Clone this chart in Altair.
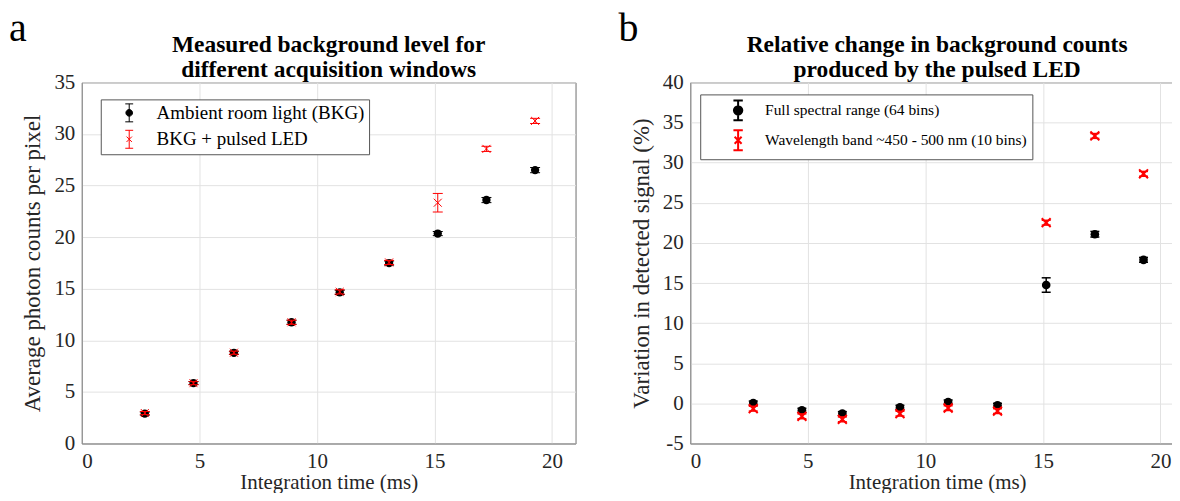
import altair as alt
import pandas as pd

# ---------------- data ----------------
t_ms = [2.68, 4.75, 6.47, 8.92, 10.97, 13.07, 15.14, 17.21, 19.28]

# panel a: average photon counts per pixel
bkg_counts = [2.90, 5.86, 8.79, 11.75, 14.65, 17.49, 20.35, 23.60, 26.50]
bkg_err = [0.15, 0.15, 0.15, 0.20, 0.20, 0.20, 0.20, 0.25, 0.25]
led_counts = [2.95, 5.85, 8.80, 11.75, 14.70, 17.55, 23.34, 28.56, 31.27]
led_err = [0.15, 0.15, 0.15, 0.20, 0.20, 0.20, 0.90, 0.25, 0.25]

# panel b: variation in detected signal (%)
full_var = [0.04, -0.87, -1.28, -0.50, 0.16, -0.25, 14.75, 21.08, 17.89]
full_err = [0.25, 0.25, 0.25, 0.25, 0.25, 0.25, 0.90, 0.35, 0.30]
band_var = [-0.66, -1.61, -1.99, -1.28, -0.58, -0.96, 22.52, 33.33, 28.61]
band_err = [0.30, 0.30, 0.30, 0.30, 0.30, 0.30, 0.30, 0.30, 0.30]

a_series = ["Ambient room light (BKG)", "BKG + pulsed LED"]
b_series = ["Full spectral range (64 bins)", "Wavelength band ~450 - 500 nm (10 bins)"]
a_title = ["Measured background level for", "different acquisition windows"]
b_title = ["Relative change in background counts", "produced by the pulsed LED"]

x_ticks = [0, 5, 10, 15, 20]
a_yticks = [0, 5, 10, 15, 20, 25, 30, 35]
b_yticks = [-5, 0, 5, 10, 15, 20, 25, 30, 35, 40]

FONT = "Liberation Serif"
X_PATH = "M-1,-1L1,1M-1,1L1,-1"
FRAME = "#6e6e6e"
W, H = 495, 362


def frame(names, vals, errs):
    rows = []
    for name, v, e in zip(names, vals, errs):
        for t, vv, ee in zip(t_ms, v, e):
            rows.append({"t": t, "v": vv, "lo": vv - ee, "hi": vv + ee, "s": name})
    return pd.DataFrame(rows)


def legend_paths(dx, cap, dot, xh):
    black = (f"M{dx},-1L{dx},1M{dx-cap},-1L{dx+cap},-1M{dx-cap},1L{dx+cap},1"
             f"M{dx-dot},0A{dot},{dot} 0 1,1 {dx+dot},0A{dot},{dot} 0 1,1 {dx-dot},0Z")
    red = (f"M{dx},-1L{dx},1M{dx-cap},-1L{dx+cap},-1M{dx-cap},1L{dx+cap},1"
           f"M{dx-xh},{-xh}L{dx+xh},{xh}M{dx-xh},{xh}L{dx+xh},{-xh}")
    return [black, red]


def text_layer(txt, x, y, **kw):
    return alt.Chart(pd.DataFrame({"lab": [txt]})).mark_text(
        font=FONT, color="black", baseline="alphabetic", **kw
    ).encode(text="lab:N", x=alt.value(x), y=alt.value(y))


def panel(df, names, ydom, yvals, ytitle, title, letter, letter_dx, leg, lpaths,
          sw, dot_size, x_size, cap_w, x_sw):
    xs = alt.Scale(domain=[0, 21], nice=False, zero=False)
    xa = alt.Axis(values=x_ticks, title="Integration time (ms)",
                  labelFont=FONT, titleFont=FONT)
    ys = alt.Scale(domain=ydom, nice=False, zero=False)
    ya = alt.Axis(values=yvals, title=ytitle, labelExpr="datum.value + ''",
                  labelFont=FONT, titleFont=FONT)
    X = alt.X("t:Q", scale=xs, axis=xa)
    cs = alt.Scale(domain=names, range=["#000000", "#ff0000"])
    ss = alt.Scale(domain=names, range=lpaths)
    base = alt.Chart(df)

    legend_layer = base.mark_point(filled=True, opacity=0).encode(
        x=X, y=alt.Y("v:Q", scale=ys, axis=ya),
        fill=alt.Fill("s:N", scale=cs, legend=leg, sort=names),
        stroke=alt.Stroke("s:N", scale=cs, legend=leg, sort=names),
        shape=alt.Shape("s:N", scale=ss, legend=leg, sort=names),
    )
    layers = [legend_layer]
    for name, col in zip(names, ["#000000", "#ff0000"]):
        sub = base.transform_filter(alt.datum.s == name)
        rule = sub.mark_rule(color=col, strokeWidth=sw).encode(
            x=X, y=alt.Y("lo:Q", scale=ys, axis=ya), y2="hi:Q")
        cap_lo = sub.mark_tick(orient="horizontal", color=col, size=cap_w,
                               thickness=sw, opacity=1).encode(
            x=X, y=alt.Y("lo:Q", scale=ys, axis=ya))
        cap_hi = sub.mark_tick(orient="horizontal", color=col, size=cap_w,
                               thickness=sw, opacity=1).encode(
            x=X, y=alt.Y("hi:Q", scale=ys, axis=ya))
        if col == "#000000":
            pts = sub.mark_point(filled=True, shape="circle", size=dot_size,
                                 color=col, opacity=1).encode(
                x=X, y=alt.Y("v:Q", scale=ys, axis=ya))
        else:
            pts = sub.mark_point(filled=False, shape=X_PATH, size=x_size,
                                 color=col, strokeWidth=x_sw, opacity=1).encode(
                x=X, y=alt.Y("v:Q", scale=ys, axis=ya))
        layers += [rule, cap_lo, cap_hi, pts]

    # panel letter and two-line bold title as text annotations
    layers.append(text_layer(letter, letter_dx, -42, align="left", fontSize=40))
    layers.append(text_layer(title[0], W / 2, -31, align="center",
                             fontSize=23.5, fontWeight="bold"))
    layers.append(text_layer(title[1], W / 2, -5, align="center",
                             fontSize=23.5, fontWeight="bold"))

    return alt.layer(*layers).properties(width=W, height=H)


leg_a = alt.Legend(title=None, orient="none", legendX=19, legendY=17, padding=4,
                   symbolSize=324, symbolStrokeWidth=1, symbolOpacity=1,
                   labelFont=FONT, labelFontSize=19, labelColor="#000000",
                   labelOffset=33, labelLimit=400, rowPadding=3.5,
                   strokeColor="#555555", fillColor="#ffffff")
leg_b = alt.Legend(title=None, orient="none", legendX=10, legendY=12, padding=5,
                   symbolSize=400, symbolStrokeWidth=2, symbolOpacity=1,
                   labelFont=FONT, labelFontSize=15.5, labelColor="#000000",
                   labelOffset=38, labelLimit=500, rowPadding=2,
                   strokeColor="#555555", fillColor="#ffffff")

left = panel(frame(a_series, [bkg_counts, led_counts], [bkg_err, led_err]),
             a_series, [0, 35], a_yticks, "Average photon counts per pixel",
             a_title, "a", -73, leg_a, legend_paths(1.67, 0.44, 0.37, 0.3),
             sw=1, dot_size=70, x_size=64, cap_w=10, x_sw=1)

right = panel(frame(b_series, [full_var, band_var], [full_err, band_err]),
              b_series, [-5, 40], b_yticks, "Variation in detected signal (%)",
              b_title, "b", -72, leg_b, legend_paths(2.2, 0.47, 0.42, 0.35),
              sw=1.5, dot_size=75, x_size=80, cap_w=9, x_sw=2)

# the reference figure is cropped at its right and bottom edges: negative
# padding crops the drawing the same way
chart = alt.hconcat(left, right, spacing=41).resolve_scale(
    x="independent", y="independent", fill="independent",
    stroke="independent", shape="independent"
).resolve_legend(fill="independent", stroke="independent", shape="independent"
).configure(
    font=FONT, padding={"left": 0, "top": -1, "right": -13, "bottom": -1}
).configure_view(stroke=FRAME, strokeWidth=1
).configure_axis(
    labelFont=FONT, labelFontSize=21, labelColor="#262626",
    titleFont=FONT, titleFontSize=21, titleFontWeight="normal", titleColor="#262626",
    gridColor="#e2e2e2", gridWidth=1, ticks=False,
).configure_axisX(labelPadding=7, titlePadding=0
).configure_axisY(labelPadding=7, titlePadding=9, titleFontSize=23)

chart.save("out.html", embed_options={"renderer": "svg", "actions": False})
